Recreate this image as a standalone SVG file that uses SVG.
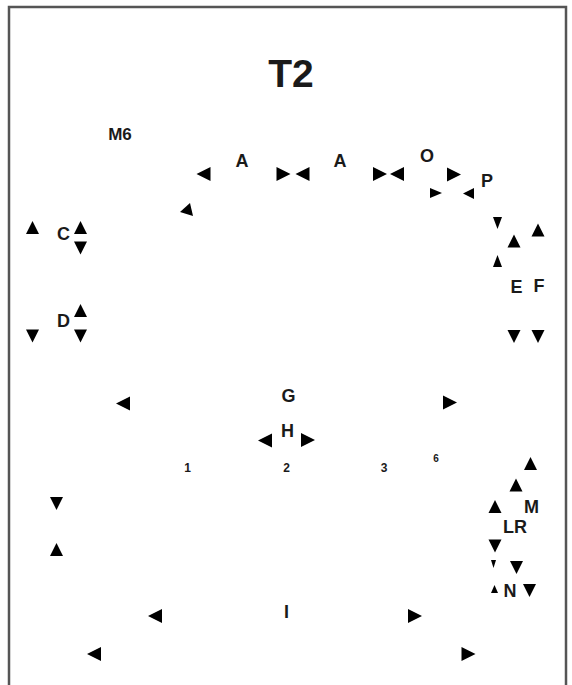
<svg xmlns="http://www.w3.org/2000/svg" xmlns:xlink="http://www.w3.org/1999/xlink" width="572" height="685" viewBox="0 0 572 685">
<style>
  .frame { fill: none; stroke: #555555; stroke-width: 2.5; }
  .lbl { font-family: "Liberation Sans", Arial, sans-serif; font-weight: bold; fill: #1a1a1a; text-anchor: middle; }
  .big { font-size: 18px; }
  .title { font-size: 39px; }
  .m6 { font-size: 17px; }
  .num { font-size: 12px; }
  .sm { font-size: 10px; }
  .ah { fill: #000000; }
</style>
<defs>
  <path id="up" class="ah" d="M0,-6.5 L6.5,6.5 L-6.5,6.5 Z"/>
  <path id="down" class="ah" d="M-6.5,-6.5 L6.5,-6.5 L0,6.5 Z"/>
  <path id="left" class="ah" d="M-7,0 L7,-7 L7,7 Z"/>
  <path id="right" class="ah" d="M7,0 L-7,-7 L-7,7 Z"/>
</defs>
<rect class="frame" x="9" y="7" width="557" height="690"/>
<g id="title"><text class="lbl title" x="291" y="87">T2</text></g>
<g id="node-M6"><text class="lbl m6" x="120" y="140">M6</text></g>
<g id="node-A1"><text class="lbl big" x="242" y="167">A</text></g>
<g id="node-A2"><text class="lbl big" x="340" y="167">A</text></g>
<g id="node-O"><text class="lbl big" x="427" y="162">O</text></g>
<g id="node-P"><text class="lbl big" x="487" y="187">P</text></g>
<g id="node-C"><text class="lbl big" x="63.5" y="240">C</text></g>
<g id="node-D"><text class="lbl big" x="63.5" y="327">D</text></g>
<g id="node-E"><text class="lbl big" x="516.5" y="293">E</text></g>
<g id="node-F"><text class="lbl big" x="539" y="292">F</text></g>
<g id="node-G"><text class="lbl big" x="288.5" y="402">G</text></g>
<g id="node-H"><text class="lbl big" x="287.5" y="437">H</text></g>
<g id="node-1"><text class="lbl num" x="187.5" y="472">1</text></g>
<g id="node-2"><text class="lbl num" x="286.5" y="472">2</text></g>
<g id="node-3"><text class="lbl num" x="384" y="472">3</text></g>
<g id="node-6"><text class="lbl sm" x="436" y="462">6</text></g>
<g id="node-M"><text class="lbl big" x="531.5" y="513">M</text></g>
<g id="node-LR"><text class="lbl big" x="515" y="533">LR</text></g>
<g id="node-N"><text class="lbl big" x="510" y="597">N</text></g>
<g id="node-I"><text class="lbl big" x="286.5" y="618">I</text></g>
<g id="connectors">
  <use href="#up" xlink:href="#up" x="32.5" y="227.5"/>
  <use href="#up" xlink:href="#up" x="80.5" y="227.5"/>
  <use href="#up" xlink:href="#up" x="80.5" y="310.5"/>
  <use href="#up" xlink:href="#up" x="538" y="230"/>
  <use href="#up" xlink:href="#up" x="514" y="241"/>
  <use href="#up" xlink:href="#up" x="56.5" y="549.5"/>
  <use href="#up" xlink:href="#up" x="530.5" y="463.5"/>
  <use href="#up" xlink:href="#up" x="516" y="485"/>
  <use href="#up" xlink:href="#up" x="495" y="506.5"/>
  <path class="ah" d="M497.5,255 L502,267 L493,267 Z"/>
  <path class="ah" d="M494.5,585 L498,593 L491,593 Z"/>
  <use href="#down" xlink:href="#down" x="80.5" y="248"/>
  <use href="#down" xlink:href="#down" x="32.5" y="336"/>
  <use href="#down" xlink:href="#down" x="80.5" y="336"/>
  <use href="#down" xlink:href="#down" x="514" y="336.5"/>
  <use href="#down" xlink:href="#down" x="538" y="336.5"/>
  <use href="#down" xlink:href="#down" x="56.5" y="503.5"/>
  <use href="#down" xlink:href="#down" x="495" y="546"/>
  <use href="#down" xlink:href="#down" x="516.5" y="567.5"/>
  <use href="#down" xlink:href="#down" x="529.5" y="590.5"/>
  <path class="ah" d="M493,217 L502,217 L497.5,229 Z"/>
  <path class="ah" d="M491,560 L496,560 L493.5,568 Z"/>
  <use href="#left" xlink:href="#left" x="203.5" y="174"/>
  <use href="#left" xlink:href="#left" x="302.5" y="174"/>
  <use href="#left" xlink:href="#left" x="397" y="174"/>
  <path class="ah" d="M463,193.5 L474,188 L474,199 Z"/>
  <use href="#left" xlink:href="#left" x="123" y="403.5"/>
  <use href="#left" xlink:href="#left" x="265" y="440.5"/>
  <use href="#left" xlink:href="#left" x="155" y="616"/>
  <use href="#left" xlink:href="#left" x="94" y="654"/>
  <use href="#right" xlink:href="#right" x="283.5" y="174"/>
  <use href="#right" xlink:href="#right" x="380" y="174"/>
  <use href="#right" xlink:href="#right" x="454" y="174.5"/>
  <path class="ah" d="M442,193 L430,188 L430,198 Z"/>
  <use href="#right" xlink:href="#right" x="450" y="402.5"/>
  <use href="#right" xlink:href="#right" x="308" y="440"/>
  <use href="#right" xlink:href="#right" x="415" y="616"/>
  <use href="#right" xlink:href="#right" x="468.5" y="654"/>
  <path class="ah" d="M190,203 L180,212 L193,216 Z"/>
</g>
</svg>
